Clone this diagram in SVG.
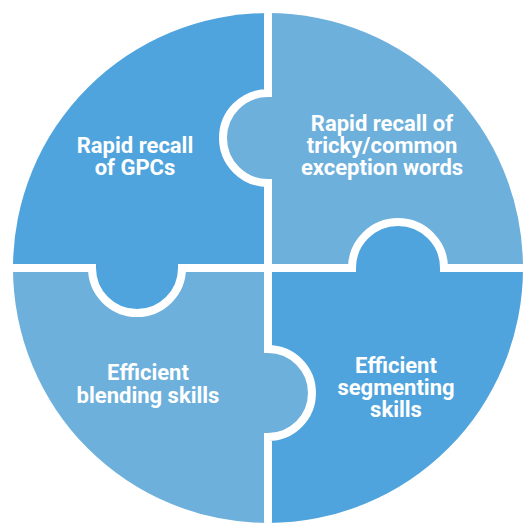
<svg xmlns="http://www.w3.org/2000/svg" width="523" height="525" viewBox="0 0 523 525">
  <defs>
    <clipPath id="disc">
      <circle cx="268" cy="268" r="255"/>
    </clipPath>
    <style>
      .dark { fill: #4fa4dd; }
      .light { fill: #6db0dc; }
      .lbl { font-family: Roboto, "Liberation Sans", Arial, sans-serif; font-weight: bold; font-size: 22px; fill: #ffffff; text-anchor: middle; }
      .sep { fill: none; stroke: #ffffff; stroke-width: 8; }
    </style>
  </defs>
  <rect width="523" height="525" fill="#ffffff"/>
  <g clip-path="url(#disc)">
    <g id="piece-gpcs">
      <path class="dark" d="M 0 0 H 268 V 93 A 45 45 0 0 0 268 183 V 268 H 182 A 45 45 0 0 1 92 268 H 0 Z"/>
    </g>
    <g id="piece-tricky">
      <path class="light" d="M 268 0 H 523 V 268 H 444 A 46 46 0 0 0 352 268 H 268 V 183 A 45 45 0 0 1 268 93 Z"/>
    </g>
    <g id="piece-segmenting">
      <path class="dark" d="M 268 268 H 352 A 46 46 0 0 1 444 268 H 523 V 525 H 268 V 437 A 44 44 0 0 0 268 349 Z"/>
    </g>
    <g id="piece-blending">
      <path class="light" d="M 0 268 H 92 A 45 45 0 0 0 182 268 H 268 V 349 A 44 44 0 0 1 268 437 V 525 H 0 Z"/>
    </g>
    <path class="sep" d="M 268 0 V 93 A 45 45 0 0 0 268 183 V 349 A 44 44 0 0 1 268 437 V 525 M 0 268 H 92 A 45 45 0 0 0 182 268 H 352 A 46 46 0 0 1 444 268 H 523"/>
  </g>
  <g id="label-gpcs">
    <text class="lbl" x="135" y="153">Rapid recall<tspan x="135" dy="22">of GPCs</tspan></text>
  </g>
  <g id="label-tricky">
    <text class="lbl" x="382" y="131">Rapid recall of<tspan x="382" dy="22">tricky/common</tspan><tspan x="382" dy="22">exception words</tspan></text>
  </g>
  <g id="label-blending">
    <text class="lbl" x="148" y="380">Efficient<tspan x="148" dy="23">blending skills</tspan></text>
  </g>
  <g id="label-segmenting">
    <text class="lbl" x="396" y="373">Efficient<tspan x="396" dy="22">segmenting</tspan><tspan x="396" dy="22">skills</tspan></text>
  </g>
</svg>
